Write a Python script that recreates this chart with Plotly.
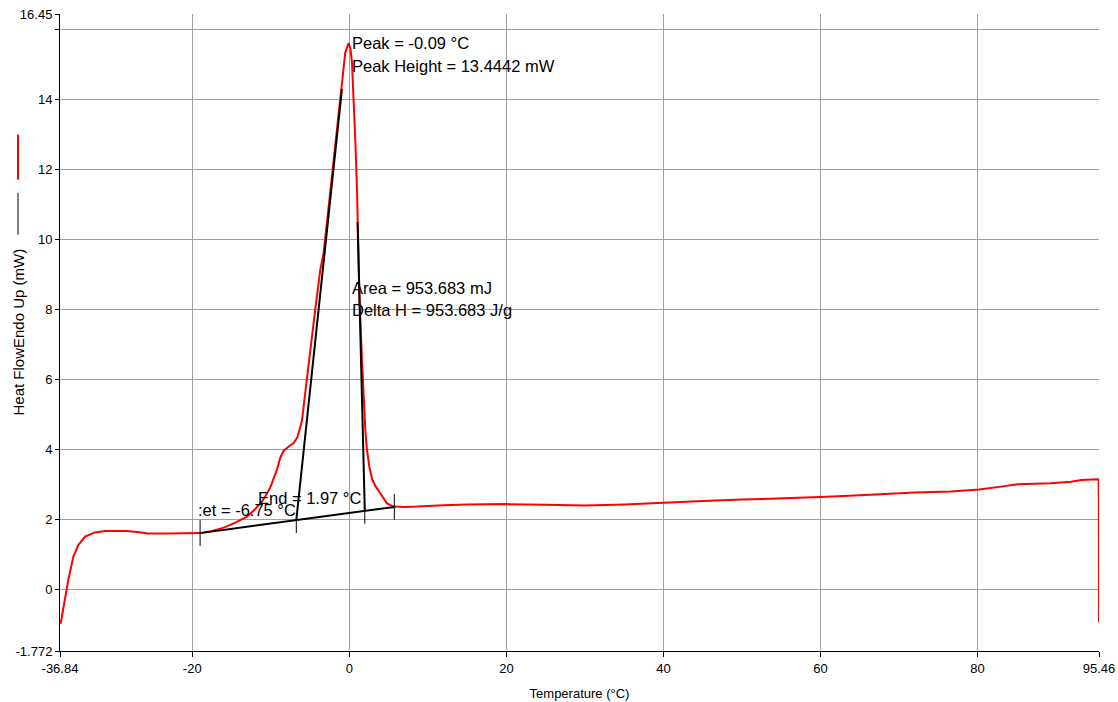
import plotly.graph_objects as go

# ---- data ----
temperature = [-36.84, -36.71, -36.3, -35.78, -35.14, -34.51, -33.65, -32.38, -31.1, -30.0,
               -28.34, -27.0, -25.59, -23.0, -21.0, -19.0, -17.5, -16.07, -14.5, -13.04,
               -12.0, -10.97, -10.08, -9.22, -8.8, -8.38, -7.6, -7.11, -6.6, -6.04,
               -5.62, -4.98, -4.34, -3.70, -3.28, -2.6, -2.01, -1.5, -1.15, -0.8,
               -0.52, -0.09, 0.15, 0.34, 0.55, 0.76, 0.98, 1.05, 1.3, 1.61,
               1.82, 2.05, 2.25, 2.55, 2.89, 3.3, 3.94, 4.79, 5.64, 7.0,
               8.6, 9.9, 12, 15, 20, 25, 30, 35, 40, 45,
               50, 55, 60, 65, 70, 72, 76.6, 80.2, 83, 85.1,
               89.3, 91.9, 93.2, 95.42, 95.46]
heat_flow = [-1.0, -0.94, -0.4, 0.26, 0.93, 1.26, 1.50, 1.62, 1.66, 1.66,
             1.66, 1.63, 1.59, 1.59, 1.59, 1.60, 1.66, 1.75, 1.9, 2.07,
             2.28, 2.55, 2.9, 3.41, 3.75, 3.95, 4.1, 4.17, 4.35, 4.8,
             5.6, 6.84, 7.99, 9.13, 9.6, 11.0, 12.19, 13.3, 14.09, 14.8,
             15.34, 15.62, 15.45, 15.05, 14.09, 12.85, 11.42, 10.48, 8.3, 6.56,
             5.41, 4.5, 3.98, 3.5, 3.15, 2.95, 2.74, 2.45, 2.36, 2.35,
             2.36, 2.38, 2.40, 2.42, 2.43, 2.41, 2.39, 2.42, 2.48, 2.52,
             2.56, 2.59, 2.63, 2.68, 2.74, 2.76, 2.79, 2.85, 2.93, 3.0,
             3.03, 3.07, 3.12, 3.14, -0.94]

# peak analysis values
baseline_T = [-19.0, 5.73]
baseline_HF = [1.60, 2.35]
onset_T = -6.75
end_T = 1.97
lead_top = (-0.94, 14.3)
trail_top = (1.05, 10.5)

x_ticks = [-36.84, -20, 0, 20, 40, 60, 80, 95.46]
x_ticktext = ["-36.84", "-20", "0", "20", "40", "60", "80", "95.46"]
y_ticks = [-1.772, 0, 2, 4, 6, 8, 10, 12, 14, 16, 16.45]
y_ticktext = ["-1.772", "0", "2", "4", "6", "8", "10", "12", "14", "", "16.45"]

annot_texts = {
    "peak": "Peak = -0.09 °C",
    "height": "Peak Height = 13.4442 mW",
    "area": "Area = 953.683 mJ",
    "dh": "Delta H = 953.683 J/g",
    "onset": ":et = -6.75 °C",
    "end": "End = 1.97 °C",
}

def base_at(t):
    return baseline_HF[0] + (t - baseline_T[0]) * (baseline_HF[1] - baseline_HF[0]) / (baseline_T[1] - baseline_T[0])

onset_y = base_at(onset_T)
end_y = base_at(end_T)
tick = 0.37  # ~13 px in data units

FONT = "Liberation Sans, Arial, sans-serif"

fig = go.Figure()
fig.add_trace(go.Scatter(x=temperature, y=heat_flow, mode="lines",
                         line=dict(color="#ff0000", width=2), hoverinfo="skip"))

black = dict(color="#000000", width=2)
fig.add_trace(go.Scatter(x=baseline_T, y=baseline_HF, mode="lines", line=black, hoverinfo="skip"))
fig.add_trace(go.Scatter(x=[onset_T, lead_top[0]], y=[onset_y, lead_top[1]], mode="lines", line=black, hoverinfo="skip"))
fig.add_trace(go.Scatter(x=[end_T, trail_top[0]], y=[end_y, trail_top[1]], mode="lines", line=black, hoverinfo="skip"))
thin = dict(color="#000000", width=1)
for tx, ty0, ty1 in [
    (baseline_T[0], baseline_HF[0] - tick, baseline_HF[0] + tick),
    (onset_T, onset_y - tick, onset_y),
    (end_T, end_y - tick, end_y),
    (baseline_T[1], baseline_HF[1] - tick, baseline_HF[1] + tick),
]:
    fig.add_trace(go.Scatter(x=[tx, tx], y=[ty0, ty1], mode="lines", line=thin, hoverinfo="skip"))

ann_font = dict(family=FONT, size=16.5, color="#000000")
annotations = [
    dict(x=0.1, y=15.63, text=annot_texts["peak"]),
    dict(x=0.1, y=14.97, text=annot_texts["height"]),
    dict(x=0.1, y=8.62, text=annot_texts["area"]),
    dict(x=0.1, y=7.99, text=annot_texts["dh"]),
    dict(x=-19.5, y=2.26, text=annot_texts["onset"]),
    dict(x=-11.85, y=2.6, text=annot_texts["end"]),
]
for a in annotations:
    a.update(xref="x", yref="y", xanchor="left", yanchor="middle", showarrow=False, font=ann_font)

annotations.append(dict(xref="paper", yref="paper", x=-0.0404, y=0.5, textangle=-90,
                        text="Heat FlowEndo Up (mW)", showarrow=False,
                        xanchor="center", yanchor="middle",
                        font=dict(family=FONT, size=15, color="#000000")))

shapes = [
    dict(type="line", xref="paper", yref="paper", x0=-0.0404, x1=-0.0404, y0=0.7399, y1=0.8106,
         line=dict(color="#ff0000", width=2)),
    dict(type="line", xref="paper", yref="paper", x0=-0.0404, x1=-0.0404, y0=0.6535, y1=0.7194,
         line=dict(color="#000000", width=1)),
]

fig.update_layout(
    width=1118, height=702,
    margin=dict(l=60, r=19, t=14, b=51, autoexpand=False),
    paper_bgcolor="#ffffff", plot_bgcolor="#ffffff",
    showlegend=False,
    annotations=annotations,
    shapes=shapes,
    font=dict(family=FONT, size=13, color="#000000"),
    xaxis=dict(range=[-36.84, 95.46], tickvals=x_ticks, ticktext=x_ticktext,
               showgrid=True, gridcolor="#a0a0a0", gridwidth=1,
               showline=True, linecolor="#000000", linewidth=1,
               ticks="outside", ticklen=5, tickcolor="#000000",
               zeroline=False, automargin=False,
               title=dict(text="Temperature (°C)", font=dict(family=FONT, size=13), standoff=14),
               tickfont=dict(family=FONT, size=13, color="#000000")),
    yaxis=dict(range=[-1.772, 16.45], tickvals=y_ticks, ticktext=y_ticktext,
               showgrid=True, gridcolor="#a0a0a0", gridwidth=1,
               showline=True, linecolor="#000000", linewidth=1,
               ticks="outside", ticklen=4, tickcolor="#000000",
               zeroline=False, automargin=False,
               tickfont=dict(family=FONT, size=13, color="#000000")),
)

fig.write_html("out.html", config={"displayModeBar": False},
               post_script="document.body.style.margin='0px';document.body.style.overflow='hidden';")
